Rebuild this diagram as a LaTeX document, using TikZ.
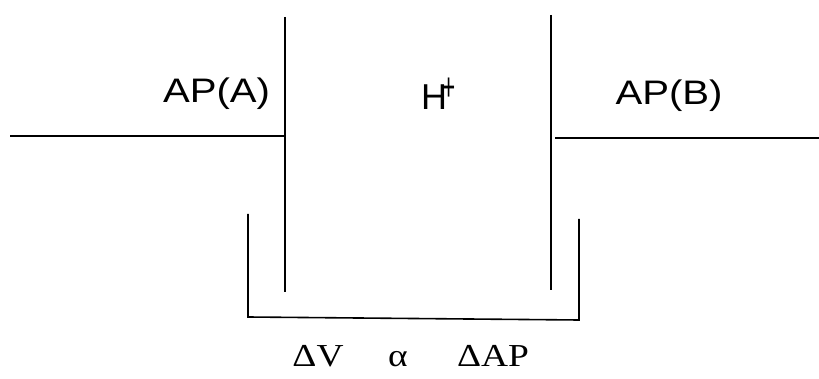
\documentclass[tikz,border=0pt]{standalone}
\usepackage{fontspec}
\setmainfont{Liberation Sans}
\newfontfamily\serifmf{Liberation Serif}
\begin{document}
\begin{tikzpicture}[x=1pt,y=-1pt,
  wall/.style={line width=1.6pt,line cap=butt},
  lbl/.style={inner sep=0pt,anchor=base,font=\fontsize{34}{34}\selectfont,xscale=1.18},
  eq/.style={inner sep=0pt,anchor=base,font=\serifmf\fontsize{32}{32}\selectfont,xscale=1.17}]
\useasboundingbox (0,0) rectangle (819,379);
% named points
\coordinate (lh0) at (10,136);
\coordinate (lh1) at (285,136);
\coordinate (lmt) at (285,17);
\coordinate (lmb) at (285,292);
\coordinate (rmt) at (551,15);
\coordinate (rmb) at (551,290);
\coordinate (rh0) at (555,138);
\coordinate (rh1) at (819,138);
\coordinate (bl0) at (248,214);
\coordinate (bl1) at (248,317);
\coordinate (br1) at (579,320);
\coordinate (br0) at (579,219);
% lines
\draw[wall] (lh0) -- (lh1);
\draw[wall] (lmt) -- (lmb);
\draw[wall] (rmt) -- (rmb);
\draw[wall] (rh0) -- (rh1);
\draw[wall] (bl0) -- (bl1) -- (br1) -- (br0);
% labels
\node[lbl] (apa) at (216.5,103) {AP(A)};
\node[lbl] (apb) at (669,105) {AP(B)};
\node[inner sep=0pt,anchor=base west,font=\fontsize{36}{36}\selectfont] (h) at (421,110)
  {H\kern-5pt\raisebox{9pt}{\fontsize{30}{30}\selectfont\scalebox{0.75}[1.3]{+}}};
\node[eq] (dv) at (318,366) {ΔV};
\node[eq] (al) at (398,366) {α};
\node[eq] (dap) at (493,366) {ΔAP};
\end{tikzpicture}
\end{document}
